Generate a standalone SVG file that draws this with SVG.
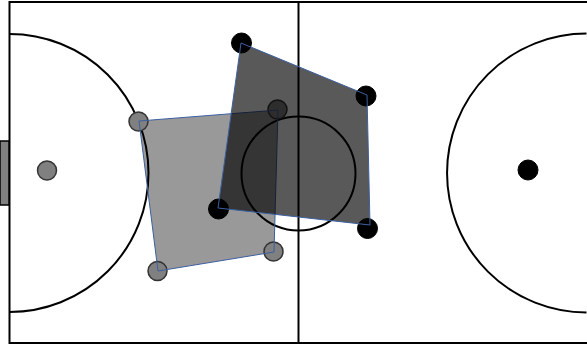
<svg xmlns="http://www.w3.org/2000/svg" width="587" height="345" viewBox="0 0 587 345">
  <defs>
    <style>
      .line { fill: none; stroke: #000; stroke-width: 2; }
      .gray { fill: #808080; stroke: #333; stroke-width: 1.5; }
      .black { fill: #000; stroke: #000; stroke-width: 1; }
      .teamA { fill: #000; fill-opacity: 0.4; stroke: none; }
      .teamAedge { fill: none; stroke: #3d5fa0; stroke-width: 1; }
      .teamB { fill: #000; fill-opacity: 0.65; stroke: #3d5fa0; stroke-width: 1; }
    </style>
  </defs>
  <rect x="0" y="0" width="587" height="345" fill="#fff"/>
  <g id="field">
    <rect x="9.5" y="2" width="579" height="341" class="line"/>
    <line x1="298.5" y1="2" x2="298.5" y2="343" class="line"/>
    <circle cx="298.5" cy="173.5" r="57" class="line"/>
    <path d="M 9.5 34 A 139 139 0 0 1 9.5 312" class="line"/>
    <path d="M 586.5 33.5 A 139.5 139.5 0 0 0 586.5 312.5" class="line"/>
    <rect id="goal-left" x="0" y="141" width="9" height="64" fill="#808080" stroke="#000" stroke-width="1.5"/>
  </g>
  <g id="ball-left"><circle cx="47" cy="170.5" r="9.5" class="gray"/></g>
  <g id="ball-right"><circle cx="528" cy="170" r="10" class="black"/></g>
  <g id="team-gray-area"><polygon points="139,121 278,110 274,252 158,271" class="teamA"/></g>
  <g id="gray-1"><circle cx="138.5" cy="121.5" r="9.5" class="gray"/></g>
  <g id="gray-2"><circle cx="277.5" cy="109.5" r="9.5" class="gray"/></g>
  <g id="gray-3"><circle cx="273.5" cy="251.5" r="9.5" class="gray"/></g>
  <g id="gray-4"><circle cx="157.5" cy="271" r="9.5" class="gray"/></g>
  <g id="connectors"><polygon points="139,121 278,110 274,252 158,271" class="teamAedge"/></g>
  <g id="black-1"><circle cx="241.5" cy="43" r="10" class="black"/></g>
  <g id="black-2"><circle cx="366" cy="96" r="10" class="black"/></g>
  <g id="black-3"><circle cx="367.5" cy="228.5" r="10" class="black"/></g>
  <g id="black-4"><circle cx="218.5" cy="209" r="10" class="black"/></g>
  <g id="team-black-area"><polygon points="241,43 367,95 370,225 218,208" class="teamB"/></g>
</svg>
